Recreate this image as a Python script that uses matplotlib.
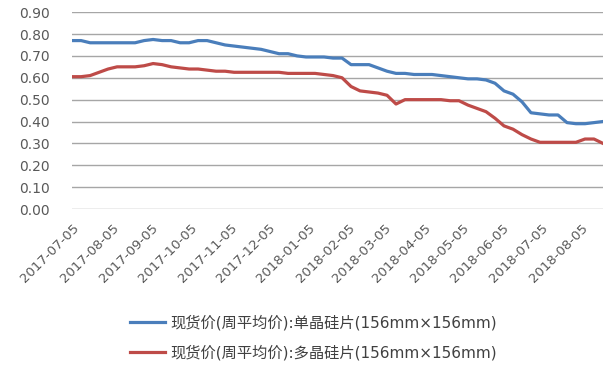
import numpy as np
import pandas as pd
import matplotlib
matplotlib.use("Agg")
import matplotlib.pyplot as plt
import matplotlib.dates as mdates

plt.rcParams["font.family"] = ["DejaVu Sans", "Noto Sans CJK SC"]

# Weekly spot prices (USD/piece), Wednesdays 2017-07-05 .. 2018-08-22
dates = pd.date_range("2017-07-05", periods=60, freq="7D")

mono = [
    0.77, 0.77, 0.76, 0.76, 0.76, 0.76, 0.76, 0.76, 0.77, 0.775,
    0.77, 0.77, 0.76, 0.76, 0.77, 0.77, 0.76, 0.75, 0.745, 0.74,
    0.735, 0.73, 0.72, 0.71, 0.71, 0.70, 0.695, 0.695, 0.695, 0.69,
    0.69, 0.66, 0.66, 0.66, 0.645, 0.63, 0.62, 0.62, 0.615, 0.615,
    0.615, 0.61, 0.605, 0.60, 0.595, 0.595, 0.59, 0.575, 0.54, 0.525,
    0.49, 0.44, 0.435, 0.43, 0.43, 0.395, 0.39, 0.39, 0.395, 0.40,
]

multi = [
    0.605, 0.605, 0.61, 0.625, 0.64, 0.65, 0.65, 0.65, 0.655, 0.665,
    0.66, 0.65, 0.645, 0.64, 0.64, 0.635, 0.63, 0.63, 0.625, 0.625,
    0.625, 0.625, 0.625, 0.625, 0.62, 0.62, 0.62, 0.62, 0.615, 0.61,
    0.60, 0.56, 0.54, 0.535, 0.53, 0.52, 0.48, 0.50, 0.50, 0.50,
    0.50, 0.50, 0.495, 0.495, 0.475, 0.46, 0.445, 0.415, 0.38, 0.365,
    0.34, 0.32, 0.305, 0.305, 0.305, 0.305, 0.305, 0.32, 0.32, 0.30,
]

labels = [
    "现货价(周平均价):单晶硅片(156mm×156mm)",
    "现货价(周平均价):多晶硅片(156mm×156mm)",
]

tick_dates = pd.to_datetime([
    "2017-07-05", "2017-08-05", "2017-09-05", "2017-10-05", "2017-11-05",
    "2017-12-05", "2018-01-05", "2018-02-05", "2018-03-05", "2018-04-05",
    "2018-05-05", "2018-06-05", "2018-07-05", "2018-08-05",
])

fig = plt.figure(figsize=(6.06, 3.68), dpi=100, facecolor="white")
ax = fig.add_axes([0.119, 0.432, 0.876, 0.535])

ax.plot(dates, mono, color="#4A7EBB", linewidth=2.3, label=labels[0],
        solid_joinstyle="round", zorder=3)
ax.plot(dates, multi, color="#BE4B48", linewidth=2.3, label=labels[1],
        solid_joinstyle="round", zorder=3)

ax.set_xlim(dates[0], dates[-1])
ax.set_ylim(0, 0.9)
ax.set_yticks(np.arange(0, 0.91, 0.1))
ax.yaxis.set_major_formatter(plt.FuncFormatter(lambda v, p: f"{v:.2f}"))

ax.set_xticks(tick_dates)
ax.xaxis.set_major_formatter(mdates.DateFormatter("%Y-%m-%d"))
for lbl in ax.get_xticklabels():
    lbl.set_rotation(45)
    lbl.set_ha("right")
    lbl.set_rotation_mode("anchor")

ax.tick_params(axis="both", length=0, colors="#595959")
ax.tick_params(axis="x", pad=9, labelsize=9.5)
ax.tick_params(axis="y", pad=16, labelsize=10)

ax.grid(axis="y", color="#A6A6A6", linewidth=1.0, zorder=0)
for s in ax.spines.values():
    s.set_visible(False)

fig.legend(
    loc="center",
    bbox_to_anchor=(0.517, 0.083),
    ncol=1,
    frameon=False,
    fontsize=11,
    handlelength=2.3,
    handletextpad=0.3,
    labelspacing=0.95,
    labelcolor="#404040",
)

fig.savefig("out.png", dpi=100)
